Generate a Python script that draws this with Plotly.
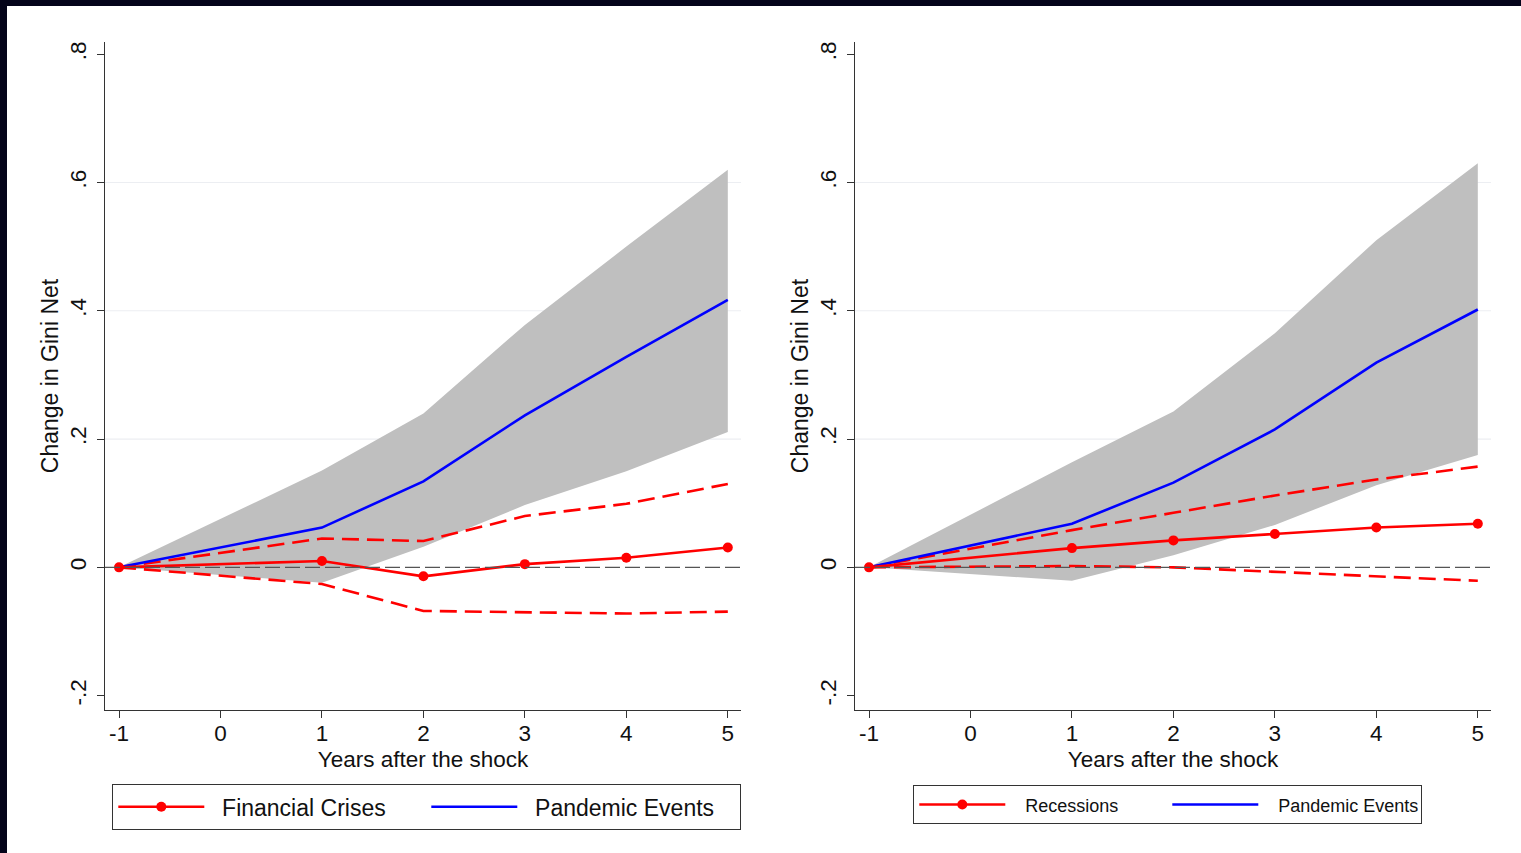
import plotly.graph_objects as go

# ---------------- data ----------------
years = [-1, 1, 2, 3, 4, 5]

# Left panel: Financial crises vs pandemic events
fin_crises = [0.0, 0.010, -0.014, 0.005, 0.015, 0.031]
fin_crises_hi = [0.0, 0.045, 0.041, 0.080, 0.099, 0.130]
fin_crises_lo = [0.0, -0.026, -0.068, -0.070, -0.072, -0.069]
pandemic_l = [0.0, 0.062, 0.134, 0.237, 0.328, 0.417]
pandemic_l_hi = [0.0, 0.151, 0.240, 0.378, 0.500, 0.620]
pandemic_l_lo = [0.0, -0.024, 0.032, 0.097, 0.150, 0.211]

# Right panel: Recessions vs pandemic events
recessions = [0.0, 0.030, 0.042, 0.052, 0.062, 0.068]
recessions_hi = [0.0, 0.058, 0.085, 0.112, 0.137, 0.157]
recessions_lo = [0.0, 0.002, 0.0, -0.007, -0.014, -0.021]
pandemic_r = [0.0, 0.068, 0.132, 0.215, 0.319, 0.402]
pandemic_r_hi = [0.0, 0.164, 0.243, 0.365, 0.510, 0.630]
pandemic_r_lo = [0.0, -0.021, 0.019, 0.066, 0.128, 0.175]

x_ticks = [-1, 0, 1, 2, 3, 4, 5]
x_ticklabels = ["-1", "0", "1", "2", "3", "4", "5"]
y_ticks = [-0.2, 0, 0.2, 0.4, 0.6, 0.8]
y_ticklabels = ["-.2", "0", ".2", ".4", ".6", ".8"]
grid_vals = [0.2, 0.4, 0.6]

# ---------------- style ----------------
W, H = 1521, 853
FONT = "Liberation Sans, Arial, Helvetica, sans-serif"
RED = "#ff0000"
BLUE = "#0000ff"
BAND = "#bfbfbf"
AXIS = "#333333"
TXT = "#111111"
NB = "\u00a0"


def px_x(p):
    return p / W


def px_y(p):
    return 1 - p / H


fig = go.Figure()


def add_panel(xa, ya, legend, main, hi, lo, pan, pan_hi, pan_lo, name_main, pad):
    # confidence band for pandemic events
    fig.add_trace(go.Scatter(x=years, y=pan_lo, mode="lines", line=dict(width=0, color=BAND),
                             hoverinfo="skip", showlegend=False, xaxis=xa, yaxis=ya))
    fig.add_trace(go.Scatter(x=years, y=pan_hi, mode="lines", line=dict(width=0, color=BAND),
                             fill="tonexty", fillcolor=BAND, hoverinfo="skip",
                             showlegend=False, xaxis=xa, yaxis=ya))
    # confidence bounds of the red series
    for ser in (hi, lo):
        fig.add_trace(go.Scatter(x=years, y=ser, mode="lines",
                                 line=dict(color=RED, width=2.6, dash="17px,8px"),
                                 showlegend=False, xaxis=xa, yaxis=ya))
    # blue pandemic
    fig.add_trace(go.Scatter(x=years, y=pan, mode="lines", name=NB * pad + "Pandemic Events",
                             line=dict(color=BLUE, width=2.6),
                             legend=legend, xaxis=xa, yaxis=ya, legendrank=2))
    # red main
    fig.add_trace(go.Scatter(x=years, y=main, mode="lines+markers", name=NB * pad + name_main,
                             line=dict(color=RED, width=2.6),
                             marker=dict(color=RED, size=10, symbol="circle"),
                             legend=legend, xaxis=xa, yaxis=ya, legendrank=1))


add_panel("x", "y", "legend", fin_crises, fin_crises_hi, fin_crises_lo,
          pandemic_l, pandemic_l_hi, pandemic_l_lo, "Financial Crises", 2)
add_panel("x2", "y2", "legend2", recessions, recessions_hi, recessions_lo,
          pandemic_r, pandemic_r_hi, pandemic_r_lo, "Recessions", 3)

xr = [-1.138, 5.13]
yr = [-0.2224, 0.819]
ydom = [px_y(710), px_y(42)]
FS = 22.5

common_x = dict(range=xr, tickvals=x_ticks, ticktext=x_ticklabels, ticks="outside",
                ticklen=7, tickwidth=1.3, ticklabelstandoff=-4,
                tickcolor=AXIS, showline=True, linecolor=AXIS, linewidth=1.3,
                showgrid=False, zeroline=False, automargin=False,
                tickfont=dict(family=FONT, size=FS, color=TXT),
                title=dict(text="Years after the shock", standoff=6,
                           font=dict(family=FONT, size=FS, color=TXT)))
common_y = dict(range=yr, tickvals=y_ticks, ticktext=y_ticklabels, ticks="outside",
                ticklen=7, tickwidth=1.3, tickcolor=AXIS, showline=True, linecolor=AXIS,
                linewidth=1.3, showgrid=False, zeroline=False, automargin=False,
                tickangle=-90, domain=ydom, ticklabelstandoff=2,
                tickfont=dict(family=FONT, size=FS, color=TXT),
                title=dict(text="Change in Gini Net", standoff=0,
                           font=dict(family=FONT, size=23, color=TXT)))

fig.update_layout(
    width=W, height=H, autosize=False,
    margin=dict(l=0, r=0, t=0, b=0, pad=0),
    paper_bgcolor="white", plot_bgcolor="white",
    font=dict(family=FONT, size=FS, color=TXT),
    xaxis=dict(common_x, domain=[px_x(105), px_x(741)], anchor="y"),
    yaxis=dict(common_y, anchor="x"),
    xaxis2=dict(common_x, domain=[px_x(855), px_x(1491)], anchor="y2"),
    yaxis2=dict(common_y, anchor="x2"),
    legend=dict(orientation="h", x=px_x(112), y=px_y(784), xanchor="left", yanchor="top",
                bordercolor="#333", borderwidth=1.3, bgcolor="white", traceorder="normal",
                font=dict(family=FONT, size=23, color=TXT),
                entrywidth=212, itemwidth=86, tracegroupgap=0),
    legend2=dict(orientation="h", x=px_x(913), y=px_y(785), xanchor="left", yanchor="top",
                 bordercolor="#333", borderwidth=1.3, bgcolor="white", traceorder="normal",
                 font=dict(family=FONT, size=18, color=TXT),
                 entrywidth=152, itemwidth=86, tracegroupgap=0),
    hovermode=False,
)

shapes = []
# dark frame strips of the original image
shapes.append(dict(type="rect", xref="paper", yref="paper", x0=0, x1=1, y0=px_y(6), y1=1,
                   fillcolor="#04041a", line=dict(width=0), layer="below"))
shapes.append(dict(type="rect", xref="paper", yref="paper", x0=0, x1=px_x(7), y0=0, y1=1,
                   fillcolor="#04041a", line=dict(width=0), layer="below"))
for xa, ya in (("x", "y"), ("x2", "y2")):
    for g in grid_vals:
        shapes.append(dict(type="line", xref=f"{xa} domain", yref=ya, x0=0, x1=1, y0=g, y1=g,
                           line=dict(color="#eceef2", width=1.2), layer="below"))
    shapes.append(dict(type="line", xref=f"{xa} domain", yref=ya, x0=0, x1=1, y0=0, y1=0,
                       line=dict(color="#555555", width=1.2, dash="15px,5px"), layer="above"))
fig.update_layout(shapes=shapes)

fig.write_html("out.html", config={"displayModeBar": False},
               post_script="document.body.style.margin='0';document.body.style.padding='0';")
